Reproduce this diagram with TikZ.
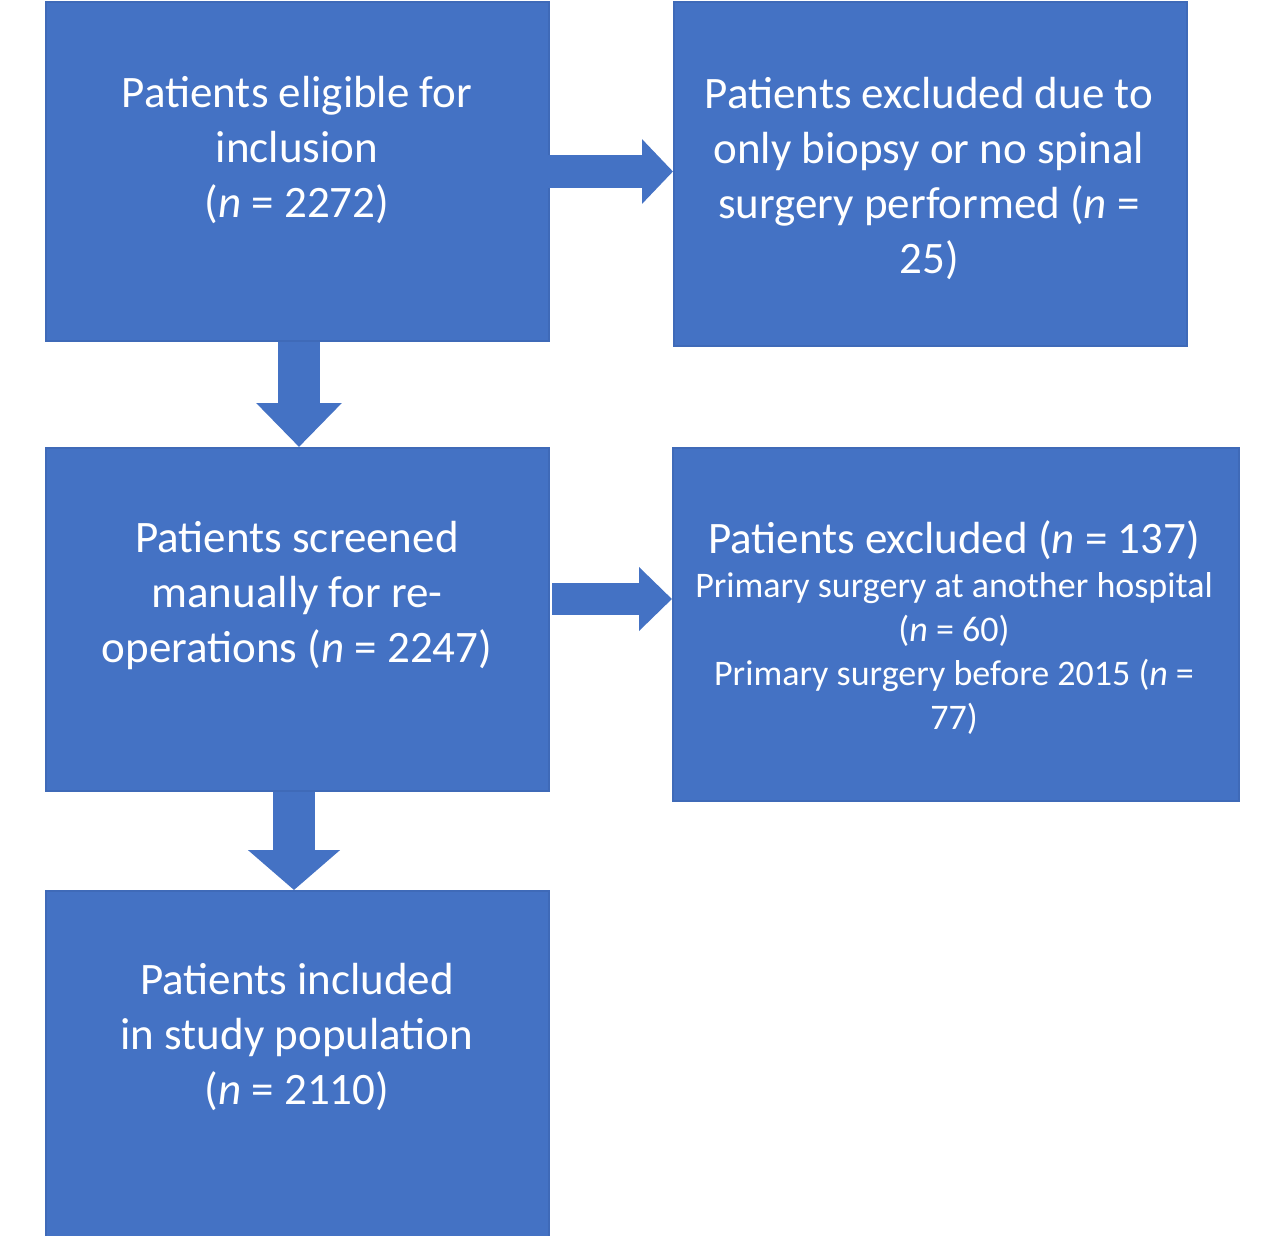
\documentclass[tikz,border=0pt]{standalone}
\usepackage{fontspec}
\setmainfont{Carlito}
\usetikzlibrary{arrows.meta}
\definecolor{boxblue}{HTML}{4472C4}
\definecolor{edgeblue}{HTML}{3F6AB8}
\tikzset{
  box/.style={rectangle, fill=boxblue, draw=edgeblue, line width=1.5pt, inner sep=0pt, anchor=north west},
  txt/.style={text=white, align=center, inner sep=0pt, font=\fontsize{45}{55}\selectfont},
  smalltxt/.style={text=white, align=center, inner sep=0pt, font=\fontsize{36}{44}\selectfont},
  blockarrow/.style={draw=boxblue, fill=boxblue},
}
\newcommand{\nn}{\textit{n}}
\begin{document}
\begin{tikzpicture}[x=1pt,y=-1pt]
\useasboundingbox (0,0) rectangle (1280,1235);
% boxes
\node[box, minimum width=503pt, minimum height=339pt] (A) at (45,1) {};
\node[box, minimum width=513pt, minimum height=344pt] (B) at (673,1) {};
\node[box, minimum width=503pt, minimum height=343pt] (C) at (45,447) {};
\node[box, minimum width=566pt, minimum height=353pt] (D) at (672,447) {};
\node[box, minimum width=503pt, minimum height=346pt] (E) at (45,890) {};
% texts
\node[txt] (At) at (297,150) {Patients eligible for\\inclusion\\(\nn{} = 2272)};
\node[txt] (Bt) at (929,178) {Patients excluded due to\\only biopsy or no spinal\\surgery performed (\nn{} =\\25)};
\node[txt] (Ct) at (297,595) {Patients screened\\manually for re-\\operations (\nn{} = 2247)};
\node[txt] (Dt) at (954,540) {Patients excluded (\nn{} = 137)};
\node[smalltxt] (Ds) at (954,653) {Primary surgery at another hospital\\(\nn{} = 60)\\Primary surgery before 2015 (\nn{} =\\77)};
\node[txt] (Et) at (297,1037) {Patients included\\in study population\\(\nn{} = 2110)};
% arrows
\coordinate (ab) at (548,171.5);
\coordinate (cd) at (552,599);
\draw[blockarrow, line width=33pt, -{Triangle[length=31pt,width=63pt]}] (ab) -- (ab -| B.west);
\draw[blockarrow, line width=42pt, -{Triangle[length=44pt,width=83pt]}] (A.south -| 299,0) -- (C.north -| 299,0);
\draw[blockarrow, line width=32pt, -{Triangle[length=33pt,width=62pt]}] (cd) -- (cd -| D.west);
\draw[blockarrow, line width=42pt, -{Triangle[length=40pt,width=90pt]}] (C.south -| 294,0) -- (E.north -| 294,0);
\end{tikzpicture}
\end{document}
